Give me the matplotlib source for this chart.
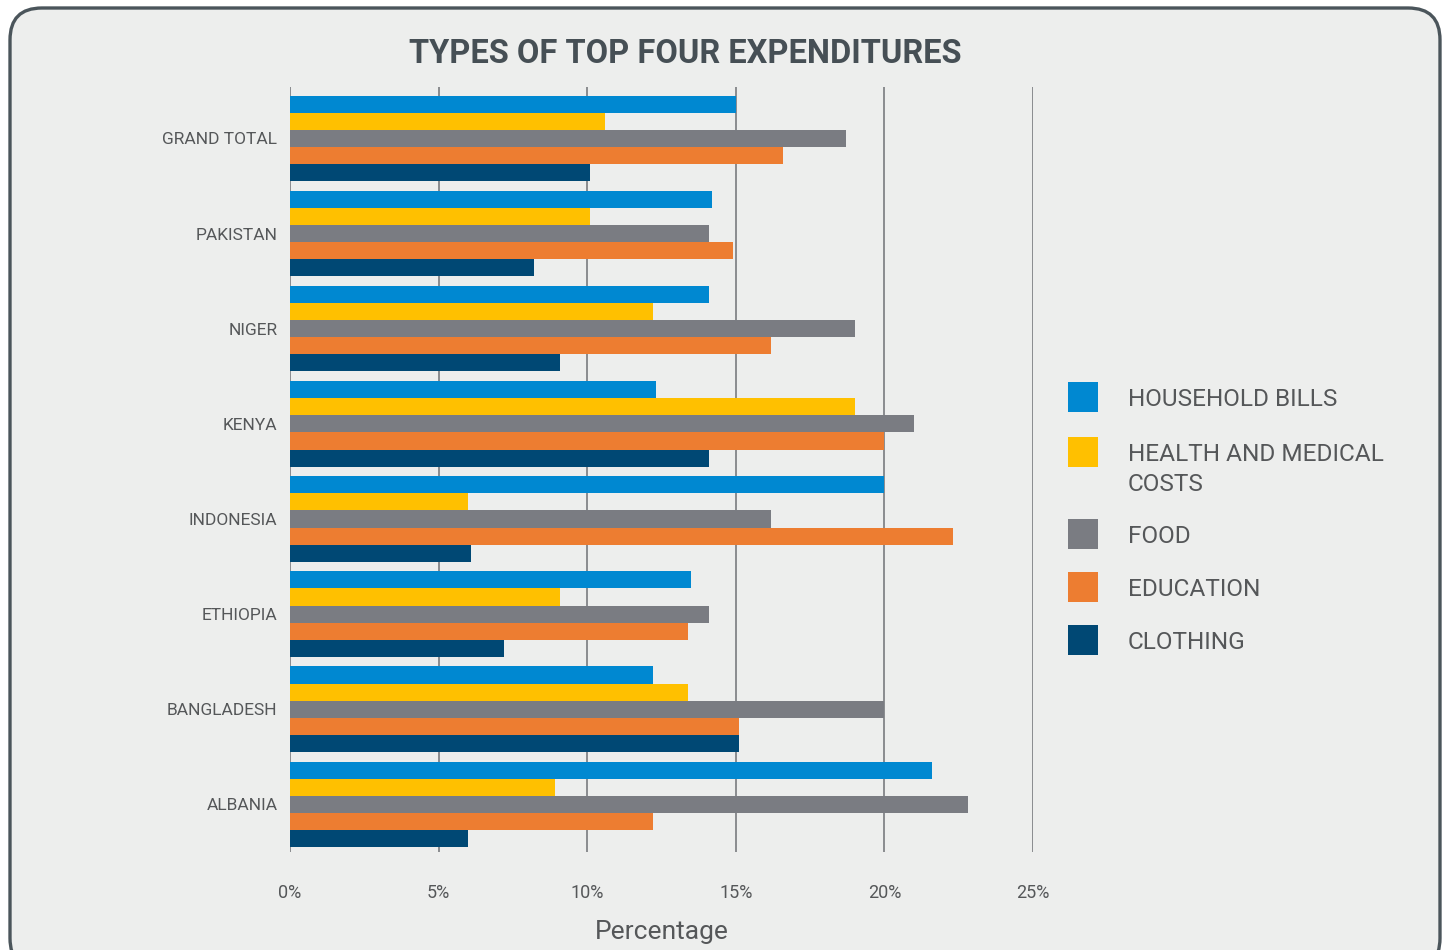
import numpy as np
import matplotlib
matplotlib.use('Agg')
from matplotlib import pyplot as plt
from matplotlib.patches import FancyBboxPatch, Rectangle

plt.rcParams['font.family'] = ['Roboto', 'DejaVu Sans']

countries = ['GRAND TOTAL', 'PAKISTAN', 'NIGER', 'KENYA', 'INDONESIA',
             'ETHIOPIA', 'BANGLADESH', 'ALBANIA']
series = ['HOUSEHOLD BILLS', 'HEALTH AND MEDICAL\nCOSTS', 'FOOD', 'EDUCATION', 'CLOTHING']
household = [15.0, 14.2, 14.1, 12.3, 20.0, 13.5, 12.2, 21.6]
health = [10.6, 10.1, 12.2, 19.0, 6.0, 9.1, 13.4, 8.9]
food = [18.7, 14.1, 19.0, 21.0, 16.2, 14.1, 20.0, 22.8]
education = [16.6, 14.9, 16.2, 20.0, 22.3, 13.4, 15.1, 12.2]
clothing = [10.1, 8.2, 9.1, 14.1, 6.1, 7.2, 15.1, 6.0]
colors = ['#0088d1', '#ffc000', '#7a7c82', '#ed7d31', '#004874']
xticks = [0, 5, 10, 15, 20, 25]

W, H = 1449, 950
fig = plt.figure(figsize=(W / 100, H / 100), dpi=100, facecolor='white')

# rounded panel behind everything
panel = FancyBboxPatch((10 / W, -20 / H), 1430 / W, 962 / H,
                       boxstyle='round,pad=0,rounding_size=0.022',
                       transform=fig.transFigure, facecolor='#edeeed',
                       edgecolor='#4b555b', linewidth=2.4, zorder=-10,
                       mutation_aspect=W / H)
fig.add_artist(panel)

ax = fig.add_axes([290 / W, 98 / H, 743 / W, 765 / H])
ax.set_facecolor('none')

pos = np.arange(len(countries))[::-1]
h = 0.18
values = [household, health, food, education, clothing]
for k, (vals, col, name) in enumerate(zip(values, colors, series)):
    ax.barh(pos + (2 - k) * h, vals, height=h, color=col, label=name, zorder=3)

ax.set_xlim(0, 25)
ax.set_ylim(-0.50, 7.54)
ax.set_xticks(xticks)
ax.set_xticklabels([f'{t}%' for t in xticks])
ax.set_yticks(pos)
ax.set_yticklabels(countries)
for t in xticks:
    ax.axvline(t, color='#8a8c8f', linewidth=1.4, zorder=1)
for s in ax.spines.values():
    s.set_visible(False)
ax.tick_params(axis='x', length=0, pad=23, labelsize=13, labelcolor='#555759')
ax.tick_params(axis='y', length=0, pad=9, labelsize=12.5, labelcolor='#555759')
ax.set_xlabel('Percentage', fontsize=19, color='#555759', labelpad=13)

fig.text(685 / W, 1 - 54 / H, 'TYPES OF TOP FOUR EXPENDITURES', ha='center',
         va='center', fontsize=23.5, fontweight='bold', color='#464f55')

# legend: square swatch + label, one row per series
row_y = [397, 452, 534, 587, 640]
for col, name, y in zip(colors, series, row_y):
    fig.add_artist(Rectangle((1068 / W, 1 - (y + 15) / H), 30 / W, 30 / H,
                             transform=fig.transFigure, facecolor=col,
                             edgecolor='none'))
    fig.text(1128 / W, 1 - (y - 9) / H, name, ha='left', va='top',
             fontsize=17.6, color='#555759', linespacing=1.38)

plt.savefig('out.png', dpi=100, facecolor='white')
